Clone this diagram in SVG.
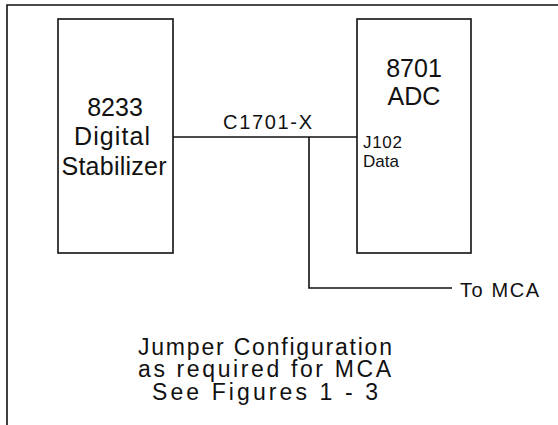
<svg xmlns="http://www.w3.org/2000/svg" width="558" height="425" viewBox="0 0 558 425">
<style>
  .ln { fill: none; stroke: #111; stroke-width: 1.6; }
  .box { fill: #fff; stroke: #111; stroke-width: 1.6; }
  .t { font-family: "Liberation Sans", Arial, sans-serif; fill: #111; }
  .big { font-size: 25px; text-anchor: middle; }
  .mid { font-size: 20px; }
  .sm { font-size: 17px; }
  .cap { font-size: 23px; }
</style>
<rect width="558" height="425" fill="#fff"/>
<g id="frame">
  <path class="ln" d="M7,425 V5 H558"/>
</g>
<g id="connectors">
  <path class="ln" d="M173,137 H357"/>
  <path class="ln" d="M309,137 V288 H452"/>
</g>
<g id="stabilizer">
  <rect class="box" x="58" y="19" width="115" height="234"/>
  <text class="t big" x="115" y="116">8233</text>
  <text class="t big" x="112" y="145" textLength="76">Digital</text>
  <text class="t big" x="114" y="175" textLength="105">Stabilizer</text>
</g>
<g id="adc">
  <rect class="box" x="357" y="19" width="114" height="234"/>
  <text class="t big" x="414" y="77">8701</text>
  <text class="t big" x="414" y="105">ADC</text>
  <text class="t sm" x="363" y="148" textLength="39">J102</text>
  <text class="t sm" x="363" y="167" textLength="36">Data</text>
</g>
<g id="labels">
  <text class="t mid" x="223" y="129" textLength="89">C1701-X</text>
  <text class="t mid" x="460" y="297" textLength="79">To MCA</text>
</g>
<g id="caption">
  <text class="t cap" x="138" y="355" textLength="254">Jumper Configuration</text>
  <text class="t cap" x="138" y="377" textLength="253">as required for MCA</text>
  <text class="t cap" x="152" y="400" textLength="226">See Figures 1 - 3</text>
</g>
</svg>
